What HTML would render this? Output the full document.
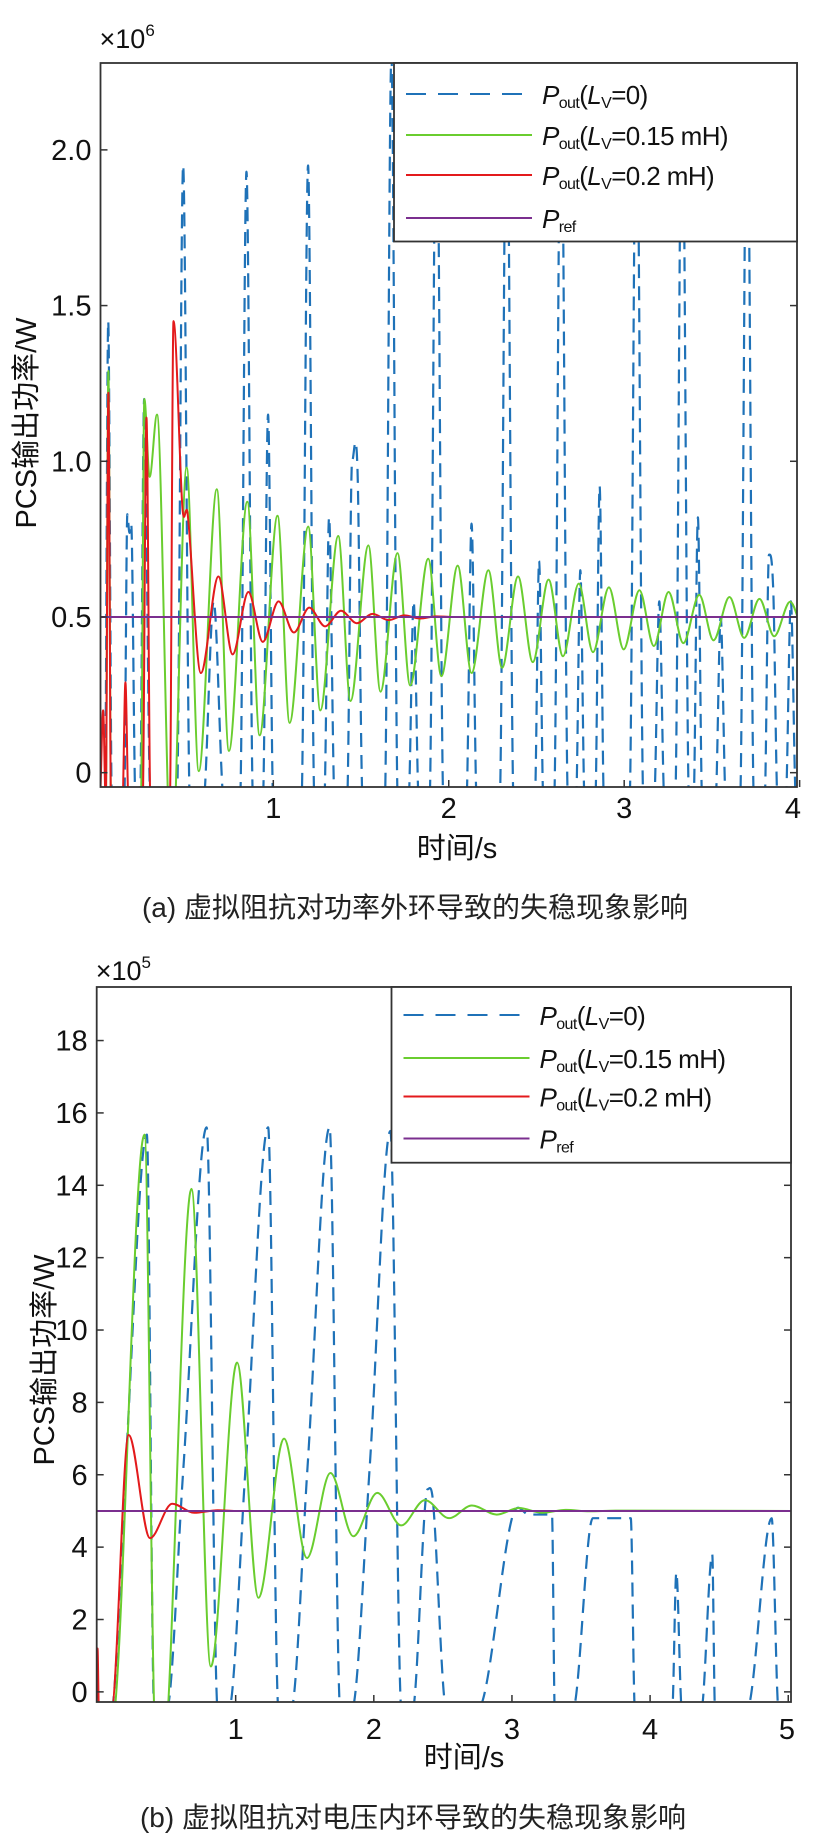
<!DOCTYPE html>
<html><head><meta charset="utf-8">
<style>
html,body{margin:0;padding:0;background:#fff;}
svg{display:block;font-family:"Liberation Sans","Noto Sans CJK SC",sans-serif;}
</style></head>
<body>
<svg id="fig" width="821" height="1842" viewBox="0 0 821 1842" xmlns="http://www.w3.org/2000/svg"></svg>
<script>
// ---------- Chart (a) data ----------
const aYTicks = [0, 0.5, 1.0, 1.5, 2.0];
const aYTickLabels = ["0", "0.5", "1.0", "1.5", "2.0"];
const aXTicks = [1, 2, 3, 4];
const aXTickLabels = ["1", "2", "3", "4"];
const aBlueT = [0.04,0.059,0.08,0.15,0.168,0.18,0.19,0.215,0.24,0.264,0.3,0.45,0.486,0.525,0.6,0.66,0.72,0.81,0.847,0.885,0.94,0.97,1.0,1.16,1.198,1.235,1.29,1.318,1.35,1.42,1.449,1.48,1.51,1.635,1.673,1.71,1.77,1.80,1.83,1.89,1.93,1.97,2.1,2.13,2.16,2.29,2.33,2.37,2.49,2.515,2.54,2.60,2.64,2.68,2.725,2.75,2.775,2.835,2.86,2.885,3.03,3.07,3.11,3.17,3.20,3.23,3.29,3.33,3.37,3.395,3.42,3.445,3.52,3.55,3.58,3.66,3.70,3.74,3.80,3.825,3.85,3.875,3.92,3.95,3.98];
const aBlueV = [-0.1,1.45,-0.1,-0.1,0.83,0.77,0.8,-0.1,-0.1,1.2,-0.1,-0.1,1.95,-0.1,-0.1,0.55,-0.1,-0.1,1.93,-0.1,-0.1,1.15,-0.1,-0.1,1.95,-0.1,-0.1,0.82,-0.1,-0.1,1.0,0.97,-0.1,-0.1,2.3,-0.1,-0.1,0.55,-0.1,-0.1,2.3,-0.1,-0.1,0.8,-0.1,-0.1,2.3,-0.1,-0.1,0.68,-0.1,-0.1,2.3,-0.1,-0.1,0.65,-0.1,-0.1,0.92,-0.1,-0.1,2.3,-0.1,-0.1,0.55,-0.1,-0.1,2.3,-0.1,-0.1,0.82,-0.1,-0.1,0.5,-0.1,-0.1,2.3,-0.1,-0.1,0.7,0.58,-0.1,-0.1,0.55,-0.1];
const aGreenT = [0.01,0.045,0.06,0.075,0.245,0.265,0.295,0.337,0.42,0.506,0.575,0.678,0.747,0.852,0.922,1.024,1.093,1.199,1.268,1.370,1.44,1.542,1.611,1.708,1.78,1.883,1.958,2.051,2.13,2.226,2.304,2.395,2.479,2.569,2.651,2.741,2.822,2.913,2.997,3.087,3.169,3.253,3.337,3.428,3.509,3.6,3.684,3.771,3.855,3.946,4.03];
const aGreenV = [-0.1,-0.1,1.29,-0.1,-0.1,1.2,0.95,1.15,-0.3,0.98,0.005,0.91,0.07,0.87,0.12,0.825,0.16,0.79,0.2,0.76,0.23,0.73,0.26,0.705,0.28,0.687,0.31,0.665,0.32,0.65,0.337,0.63,0.355,0.62,0.374,0.607,0.387,0.595,0.396,0.586,0.407,0.58,0.416,0.571,0.425,0.564,0.433,0.558,0.438,0.549,0.45];
const aRedT = [0.01,0.03,0.045,0.06,0.075,0.14,0.157,0.175,0.255,0.277,0.3,0.41,0.431,0.482,0.512,0.587,0.687,0.768,0.858,0.94,1.03,1.117,1.205,1.295,1.386,1.476,1.566,1.657,1.747,1.837,1.928,2.02,4.03];
const aRedV = [-0.1,0.2,-0.1,1.22,-0.1,-0.1,0.29,-0.1,-0.1,1.14,-0.1,-0.1,1.45,0.85,0.83,0.32,0.63,0.38,0.58,0.42,0.55,0.45,0.53,0.47,0.52,0.48,0.51,0.49,0.505,0.495,0.502,0.5,0.5];
const aRef = 0.5;

// ---------- Chart (b) data ----------
const bYTicks = [0,2,4,6,8,10,12,14,16,18];
const bYTickLabels = ["0","2","4","6","8","10","12","14","16","18"];
const bXTicks = [1,2,3,4,5];
const bXTickLabels = ["1","2","3","4","5"];
const bBlueT = [0.1,0.2,0.357,0.41,0.5,0.62,0.79,0.87,0.95,1.07,1.235,1.31,1.40,1.52,1.68,1.757,1.84,1.97,2.12,2.2,2.28,2.39,2.43,2.526,2.75,3.0,3.12,3.29,3.31,3.44,3.585,3.86,3.89,4.16,4.19,4.23,4.37,4.45,4.47,4.7,4.88,4.93,5.05];
const bBlueV = [-0.5,6.0,15.4,-0.5,-0.5,6.1,15.6,-0.5,-0.5,6.1,15.6,-0.5,-0.5,6.2,15.6,-0.5,-0.5,6.2,15.5,-0.5,-0.5,5.6,5.2,-0.5,-0.5,4.8,4.9,4.9,-0.5,-0.5,4.8,4.8,-0.5,-0.5,3.3,-0.5,-0.5,3.8,-0.5,-0.5,4.8,-0.5,-0.5];
const bGreenT = [0.1,0.34,0.41,0.47,0.68,0.82,1.01,1.165,1.35,1.516,1.686,1.852,2.025,2.198,2.37,2.545,2.71,2.89,3.05,3.22,3.39,3.56,3.75,5.05];
const bGreenV = [-1,15.4,-0.5,-2,13.9,0.7,9.1,2.6,7.0,3.7,6.05,4.3,5.5,4.6,5.3,4.8,5.15,4.9,5.08,4.95,5.03,4.99,5.01,5.0];
const bRedT = [-0.02,0.0,0.01,0.1,0.225,0.38,0.54,0.70,0.87,1.0,5.05];
const bRedV = [1.2,1.2,-0.5,-0.5,7.1,4.25,5.2,4.95,5.02,5.0,5.0];
const bRef = 5;

const NS = "http://www.w3.org/2000/svg";
const svg = document.getElementById('fig');
function mk(tag, attrs, parent, text){
  const e = document.createElementNS(NS, tag);
  for (const k in attrs) e.setAttribute(k, attrs[k]);
  if (text !== undefined) e.textContent = text;
  (parent || svg).appendChild(e);
  return e;
}
function smoothPath(ts, vs, sx, sy){
  const n = ts.length; const X = ts.map(sx), Y = vs.map(sy);
  const slope = [];
  for (let i=0;i<n;i++){
    if (i===0||i===n-1){slope.push(0);continue;}
    const a=vs[i]-vs[i-1], b=vs[i+1]-vs[i];
    if (a*b<=0) slope.push(0);
    else slope.push((Y[i+1]-Y[i-1])/(X[i+1]-X[i-1]));
  }
  let d = "M"+X[0].toFixed(2)+","+Y[0].toFixed(2);
  for (let i=0;i<n-1;i++){
    const dx = X[i+1]-X[i];
    const c1x=X[i]+dx/3, c1y=Y[i]+slope[i]*dx/3;
    const c2x=X[i+1]-dx/3, c2y=Y[i+1]-slope[i+1]*dx/3;
    d += " C"+c1x.toFixed(2)+","+c1y.toFixed(2)+" "+c2x.toFixed(2)+","+c2y.toFixed(2)+" "+X[i+1].toFixed(2)+","+Y[i+1].toFixed(2);
  }
  return d;
}

function chart(cfg){
  const g = mk('g', {});
  
  
  const L=cfg.left, R=cfg.right, T=cfg.top, B=cfg.bottom;
  const sx = t => L + (t-cfg.xmin)/(cfg.xmax-cfg.xmin)*(R-L);
  const sy = v => B - (v-cfg.ymin)/(cfg.ymax-cfg.ymin)*(B-T);
  const cp = mk('clipPath', {id: cfg.id+'-clip'}, g);
  mk('rect', {x:L, y:T, width:R-L, height:B-T}, cp);
  const plot = mk('g', {'clip-path':'url(#'+cfg.id+'-clip)'}, g);
  
  
  const pb = mk('path', {d: smoothPath(cfg.blueT, cfg.blueV, sx, sy), fill:'none', stroke:'#1f72b8', 'stroke-width':2.2, 'stroke-dasharray':'14 8'}, plot);
  
  
  const pg = mk('path', {d: smoothPath(cfg.greenT, cfg.greenV, sx, sy), fill:'none', stroke:'#6acd2f', 'stroke-width':2}, plot);
  
  
  const pr = mk('path', {d: smoothPath(cfg.redT, cfg.redV, sx, sy), fill:'none', stroke:'#e31a1c', 'stroke-width':2}, plot);
  
  
  const pp = mk('line', {x1:L, x2:R, y1:sy(cfg.ref), y2:sy(cfg.ref), stroke:'#7b2f8f', 'stroke-width':2}, plot);
  
  
  const fr = mk('rect', {x:L, y:T, width:R-L, height:B-T, fill:'none', stroke:'#333', 'stroke-width':1.8}, g);
  
  
  cfg.yTicks.forEach((v,i)=>{
    const y = sy(v);
    const tk = mk('line', {x1:L, x2:L+7, y1:y, y2:y, stroke:'#333', 'stroke-width':1.5}, g);
    
    
    const tk2 = mk('line', {x1:R-7, x2:R, y1:y, y2:y, stroke:'#333', 'stroke-width':1.5}, g);
    
    
    const tl = mk('text', {x:L-9, y:y+10, 'text-anchor':'end', 'font-size':29, fill:'#111'}, g, cfg.yLabels[i]);
    
    
  });
  cfg.xTicks.forEach((t,i)=>{
    const x = sx(t);
    const tk = mk('line', {x1:x, x2:x, y1:B, y2:B-7, stroke:'#333', 'stroke-width':1.5}, g);
    
    
    const xx = Math.min(x, R-4);
    const tl = mk('text', {x:xx, y:cfg.xLabelY, 'text-anchor':'middle', 'font-size':29, fill:'#111'}, g, cfg.xLabels[i]);
    
    
  });
  const ex = mk('text', {x:L-1, y:cfg.expY, 'font-size':27, fill:'#111'}, g);
  
  
  mk('tspan', {}, ex, '×10');
  mk('tspan', {'font-size':17, dy:-12}, ex, cfg.exp);
  const xt = mk('text', {x:cfg.xTitleX, y:cfg.xTitleY, 'text-anchor':'middle', 'font-size':29, fill:'#111'}, g, '时间/s');
  
  
  const yt = mk('text', {x:0, y:0, 'text-anchor':'middle', 'font-size':29, fill:'#111', transform:'translate('+cfg.yTitleX+','+cfg.yTitleY+') rotate(-90)'}, g, 'PCS输出功率/W');
  
  
  const lg = mk('g', {}, g);
  
  
  mk('rect', {x:cfg.legX, y:T, width:R-cfg.legX, height:cfg.legB-T, fill:'#fff', stroke:'#333', 'stroke-width':1.8}, lg);
  const entries = [
    {c:'#1f72b8', dash:'20 12', sub:'out', L:true, rest:'=0)'},
    {c:'#6acd2f', dash:'', sub:'out', L:true, rest:'=0.15 mH)'},
    {c:'#e31a1c', dash:'', sub:'out', L:true, rest:'=0.2 mH)'},
    {c:'#7b2f8f', dash:'', sub:'ref', L:false}
  ];
  const names = ['legend-entry-lv-0','legend-entry-lv-0.15mh','legend-entry-lv-0.2mh','legend-entry-pref'];
  entries.forEach((e,i)=>{
    const y = cfg.legY[i];
    const eg = mk('g', {}, lg);
    
    
    const ln = mk('line', {x1:cfg.legX+12, x2:cfg.legX+138, y1:y, y2:y, stroke:e.c, 'stroke-width':2}, eg);
    if (e.dash) ln.setAttribute('stroke-dasharray', e.dash);
    const t = mk('text', {x:cfg.legX+148, y:y+10, 'font-size':26, fill:'#111', 'letter-spacing':'-0.6'}, eg);
    mk('tspan', {'font-style':'italic'}, t, 'P');
    mk('tspan', {'font-size':16, dy:4}, t, e.sub);
    if (e.L){
      mk('tspan', {dy:-4}, t, '(');
      mk('tspan', {'font-style':'italic'}, t, 'L');
      mk('tspan', {'font-size':16, dy:4}, t, 'V');
      mk('tspan', {dy:-4}, t, e.rest);
    }
  });
  const cap = mk('text', {x:cfg.capX, y:cfg.capY, 'text-anchor':'middle', 'font-size':28, fill:'#222'}, g, cfg.caption);
  
  
}

chart({id:'chart-a', left:100.5, right:797, top:63, bottom:787, xmin:0.015, xmax:3.985, ymin:-0.046, ymax:2.279,
  yTicks:aYTicks, yLabels:aYTickLabels, xTicks:aXTicks, xLabels:aXTickLabels, xLabelY:818, exp:'6', expY:48,
  blueT:aBlueT, blueV:aBlueV, greenT:aGreenT, greenV:aGreenV, redT:aRedT, redV:aRedV, ref:aRef,
  xTitleX:457, xTitleY:858, yTitleX:36, yTitleY:423, legX:394, legB:241.5, legY:[94,135,175,218],
  capX:415, capY:917, caption:'(a) 虚拟阻抗对功率外环导致的失稳现象影响'});
chart({id:'chart-b', left:96.7, right:791, top:987, bottom:1702, xmin:-0.006, xmax:5.02, ymin:-0.28, ymax:19.48,
  yTicks:bYTicks, yLabels:bYTickLabels, xTicks:bXTicks, xLabels:bXTickLabels, xLabelY:1739, exp:'5', expY:980,
  blueT:bBlueT, blueV:bBlueV, greenT:bGreenT, greenV:bGreenV, redT:bRedT, redV:bRedV, ref:bRef,
  xTitleX:464, xTitleY:1767, yTitleX:54, yTitleY:1360, legX:391.5, legB:1162.7, legY:[1015,1058,1096.5,1138.5],
  capX:413, capY:1827, caption:'(b) 虚拟阻抗对电压内环导致的失稳现象影响'});
</script>
</body></html>
